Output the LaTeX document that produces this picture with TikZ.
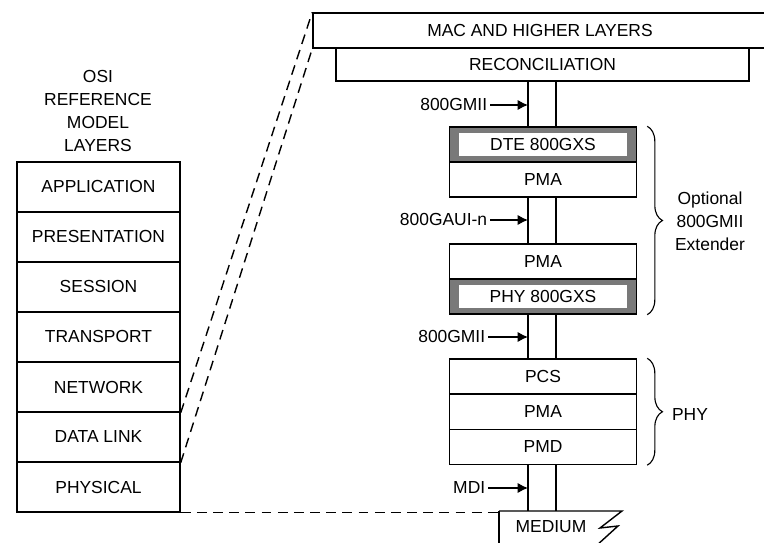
\documentclass[tikz,border=0pt]{standalone}
\usepackage{fontspec}
\setmainfont{Liberation Sans}
\usepackage{tikz}
\usetikzlibrary{arrows.meta}
\usetikzlibrary{decorations,decorations.pathreplacing}
\usepackage{xcolor}

\begin{document}
\begin{tikzpicture}[x=0.025cm,y=-0.025cm,line width=1pt,
  font=\fontsize{12.4}{16.3}\selectfont,
  osi/.style={shape=rectangle,draw=black,inner sep=0pt,
    minimum width=4.075cm,minimum height=1.25cm},
  sub/.style={shape=rectangle,draw=black,inner sep=0pt,
    minimum width=4.675cm,minimum height=0.875cm},
  gxs/.style={sub,fill=gray!95!black},
  gxsin/.style={shape=rectangle,fill=white,inner sep=0pt,
    minimum width=4.2cm,minimum height=0.575cm},
  lbl/.style={shape=rectangle,inner sep=1.5pt},
  arr/.style={-{Latex[length=2.6mm,width=2.6mm]}},
  dline/.style={dash pattern=on 7pt off 4.5pt},
  brc/.style={decorate,decoration={brace,amplitude=0.38cm}}]
      \useasboundingbox (0,0) rectangle (764,543);
      %\draw[help lines] (0,0) grid (764,543); % Only for Development

      % OSI stack
      \node[lbl,align=center] (osititle) at (98,111) {OSI\\REFERENCE\\MODEL\\LAYERS};
      \node[osi] (app) at (98.5,187) {APPLICATION};
      \node[osi] (pres) at (98.5,237) {PRESENTATION};
      \node[osi] (sess) at (98.5,287) {SESSION};
      \node[osi] (trans) at (98.5,337) {TRANSPORT};
      \node[osi] (net) at (98.5,387) {NETWORK};
      \node[osi] (dlink) at (98.5,437) {DATA LINK};
      \node[osi] (phys) at (98.5,487) {PHYSICAL};

      % upper layers
      \node[shape=rectangle,draw=black,inner sep=0pt,
        minimum width=11.4cm,
        minimum height=0.875cm] (mac) at (541,30.5) {};
      \node[lbl] (mactxt) at (540,30.5) {MAC AND HIGHER LAYERS};
      \node[shape=rectangle,draw=black,inner sep=0pt,
        minimum width=10.325cm,
        minimum height=0.825cm] (recon) at (542.5,64.5) {RECONCILIATION};

      % extender
      \node[gxs] (dte) at (543,144.5) {};
      \node[gxsin] (dtein) at (543,144.5) {DTE 800GXS};
      \node[sub] (pmaA) at (543,179.5) {PMA};
      \node[sub] (pmaB) at (543,261.5) {PMA};
      \node[gxs] (phyx) at (543,296.5) {};
      \node[gxsin] (phyxin) at (543,296.5) {PHY 800GXS};

      % PHY
      \node[sub] (pcs) at (543,376.5) {PCS};
      \node[sub] (pmaC) at (543,412) {PMA};
      \node[sub] (pmd) at (543,447) {PMD};

      % medium
      \coordinate (medw) at (499,511);
      \coordinate (mede) at (622,511);
      \draw (medw) -- (499,550);
      \draw (medw) -- (mede) -- (600,528) -- (618,526) -- (596,546);
      \node[lbl] (medium) at (551,527) {MEDIUM};

      % interface lines
      \coordinate (la) at (528,0);
      \coordinate (lb) at (556,0);
      \foreach \a/\b in {recon/dte,pmaA/pmaB,phyx/pcs}{
        \draw (\a.south -| la) -- (\b.north -| la);
        \draw (\a.south -| lb) -- (\b.north -| lb);
      }
      \draw (pmd.south -| la) -- (medw -| la);
      \draw (pmd.south -| lb) -- (medw -| lb);

      % interface labels
      \node[lbl,anchor=east] (gmiiA) at (490,105) {800GMII};
      \draw[arr] (gmiiA.east) -- (gmiiA.east -| la);
      \node[lbl,anchor=east] (gaui) at (490,220) {800GAUI-n};
      \draw[arr] (gaui.east) -- (gaui.east -| la);
      \node[lbl,anchor=east] (gmiiB) at (488,337) {800GMII};
      \draw[arr] (gmiiB.east) -- (gmiiB.east -| la);
      \node[lbl,anchor=east] (mdi) at (488,488) {MDI};
      \draw[arr] (mdi.east) -- (mdi.east -| la);

      % braces
      \draw[brc,line width=0.8pt] ([xshift=0.25cm]dte.north east) -- ([xshift=0.25cm]phyx.south east);
      \node[lbl,align=center] (extlbl) at (710,221) {Optional\\800GMII\\Extender};
      \draw[brc,line width=0.8pt] ([xshift=0.25cm]pcs.north east) -- ([xshift=0.25cm]pmd.south east);
      \node[lbl] (phylbl) at (690,415) {PHY};

      % mapping
      \draw[dline] (net.south east) -- (mac.north west);
      \draw[dline] (dlink.south east) -- (mac.south west);
      \draw[dline] (phys.south east) -- (phys.south east -| medw);

    \end{tikzpicture}
\end{document}
